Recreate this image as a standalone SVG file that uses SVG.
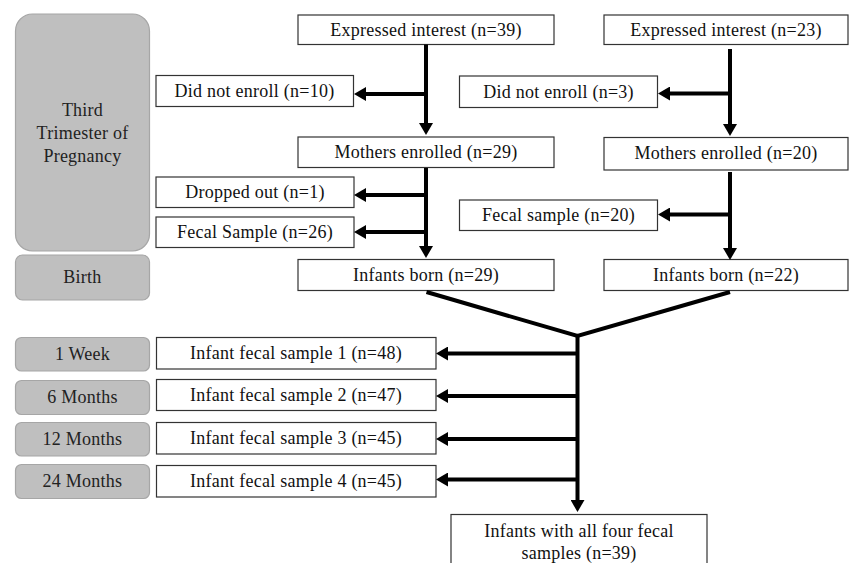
<svg xmlns="http://www.w3.org/2000/svg" width="849" height="563" viewBox="0 0 849 563">
<style>
  .box { fill: #ffffff; stroke: #333333; stroke-width: 1.2; }
  .phase { fill: #bfbfbf; stroke: #a6a6a6; stroke-width: 1.2; }
  text { font-family: 'Liberation Serif', 'Tinos', 'Times New Roman', 'DejaVu Serif', serif; font-size: 18px; text-anchor: middle; letter-spacing: 0.25px; }
  .t { fill: #111111; }
  .pt { fill: #222222; }
  .con { stroke: #000000; stroke-width: 4; fill: none; }
  .arr { stroke: #000000; stroke-width: 4; fill: none; marker-end: url(#ah); }
</style>
<defs>
  <marker id="ah" markerUnits="userSpaceOnUse" markerWidth="12" markerHeight="14" refX="2" refY="7" orient="auto">
    <path d="M0,0 L12,7 L0,14 z" fill="#000000"/>
  </marker>
</defs>
<rect width="849" height="563" fill="#ffffff"/>

<!-- phase labels -->
<g id="phase-third">
  <rect class="phase" x="15.5" y="14" width="134" height="237" rx="17" ry="17"/>
  <text class="pt" x="82.5" y="115.5">Third</text>
  <text class="pt" x="82.5" y="138.5">Trimester of</text>
  <text class="pt" x="82.5" y="161.5">Pregnancy</text>
</g>
<g id="phase-birth">
  <rect class="phase" x="15.5" y="255" width="134" height="45" rx="7" ry="7"/>
  <text class="pt" x="82.5" y="283">Birth</text>
</g>
<g id="phase-1week">
  <rect class="phase" x="15.5" y="337.5" width="134" height="33.5" rx="6" ry="6"/>
  <text class="pt" x="82.5" y="359.5">1 Week</text>
</g>
<g id="phase-6months">
  <rect class="phase" x="15.5" y="380.5" width="134" height="34" rx="6" ry="6"/>
  <text class="pt" x="82.5" y="402.5">6 Months</text>
</g>
<g id="phase-12months">
  <rect class="phase" x="15.5" y="422.5" width="134" height="33.5" rx="6" ry="6"/>
  <text class="pt" x="82.5" y="444.5">12 Months</text>
</g>
<g id="phase-24months">
  <rect class="phase" x="15.5" y="464.5" width="134" height="34" rx="6" ry="6"/>
  <text class="pt" x="82.5" y="486.5">24 Months</text>
</g>

<!-- left cohort -->
<g id="exp39">
  <rect class="box" x="298" y="15" width="256" height="29.5"/>
  <text class="t" x="426" y="35.5">Expressed interest (n=39)</text>
</g>
<g id="dne10">
  <rect class="box" x="156" y="75.5" width="197.5" height="31"/>
  <text class="t" x="254.5" y="96.5">Did not enroll (n=10)</text>
</g>
<g id="mothers29">
  <rect class="box" x="298" y="137" width="256" height="30.5"/>
  <text class="t" x="426" y="157.5">Mothers enrolled (n=29)</text>
</g>
<g id="dropped1">
  <rect class="box" x="156" y="177" width="198" height="30.5"/>
  <text class="t" x="255" y="197.5">Dropped out (n=1)</text>
</g>
<g id="fecal26">
  <rect class="box" x="156" y="217" width="198" height="30.5"/>
  <text class="t" x="255" y="238">Fecal Sample (n=26)</text>
</g>
<g id="born29">
  <rect class="box" x="298" y="259.5" width="256" height="31"/>
  <text class="t" x="426" y="280.5">Infants born (n=29)</text>
</g>

<!-- right cohort -->
<g id="exp23">
  <rect class="box" x="604" y="15" width="244" height="29.5"/>
  <text class="t" x="726" y="35.5">Expressed interest (n=23)</text>
</g>
<g id="dne3">
  <rect class="box" x="459.5" y="76" width="198" height="31.5"/>
  <text class="t" x="558.5" y="97.5">Did not enroll (n=3)</text>
</g>
<g id="mothers20">
  <rect class="box" x="604" y="137.5" width="244" height="32.5"/>
  <text class="t" x="726" y="159">Mothers enrolled (n=20)</text>
</g>
<g id="fecal20">
  <rect class="box" x="459.5" y="200" width="198" height="30.5"/>
  <text class="t" x="558.5" y="221">Fecal sample (n=20)</text>
</g>
<g id="born22">
  <rect class="box" x="604" y="259.5" width="244" height="31"/>
  <text class="t" x="726" y="280.5">Infants born (n=22)</text>
</g>

<!-- infant samples -->
<g id="ifs1">
  <rect class="box" x="156.5" y="337.5" width="279.5" height="31.5"/>
  <text class="t" x="296" y="358.5">Infant fecal sample 1 (n=48)</text>
</g>
<g id="ifs2">
  <rect class="box" x="156.5" y="379.5" width="279.5" height="31"/>
  <text class="t" x="296" y="400.5">Infant fecal sample 2 (n=47)</text>
</g>
<g id="ifs3">
  <rect class="box" x="156.5" y="422.5" width="279.5" height="31.5"/>
  <text class="t" x="296" y="443.5">Infant fecal sample 3 (n=45)</text>
</g>
<g id="ifs4">
  <rect class="box" x="156.5" y="465.5" width="279.5" height="31.5"/>
  <text class="t" x="296" y="486.5">Infant fecal sample 4 (n=45)</text>
</g>
<g id="final">
  <rect class="box" x="451" y="514.5" width="256" height="60"/>
  <text class="t" x="579" y="536.5">Infants with all four fecal</text>
  <text class="t" x="579" y="558.5">samples (n=39)</text>
</g>

<!-- connectors -->
<g id="connectors">
  <line class="arr" x1="426" y1="44.5" x2="426" y2="125"/>
  <line class="arr" x1="426" y1="94" x2="364" y2="94"/>
  <line class="arr" x1="426" y1="168" x2="426" y2="248"/>
  <line class="arr" x1="426" y1="195" x2="364" y2="195"/>
  <line class="arr" x1="426" y1="232" x2="364" y2="232"/>
  <line class="arr" x1="730" y1="49" x2="730" y2="126"/>
  <line class="arr" x1="730" y1="93.5" x2="668" y2="93.5"/>
  <line class="arr" x1="730" y1="172" x2="730" y2="250"/>
  <line class="arr" x1="730" y1="214.5" x2="668" y2="214.5"/>
  <polyline class="con" points="426.5,292 577.5,336 730,292"/>
  <line class="arr" x1="577.5" y1="335" x2="577.5" y2="502"/>
  <line class="arr" x1="577.5" y1="353.5" x2="446" y2="353.5"/>
  <line class="arr" x1="577.5" y1="396" x2="446" y2="396"/>
  <line class="arr" x1="577.5" y1="439" x2="446" y2="439"/>
  <line class="arr" x1="577.5" y1="479.5" x2="446" y2="479.5"/>
</g>
</svg>
